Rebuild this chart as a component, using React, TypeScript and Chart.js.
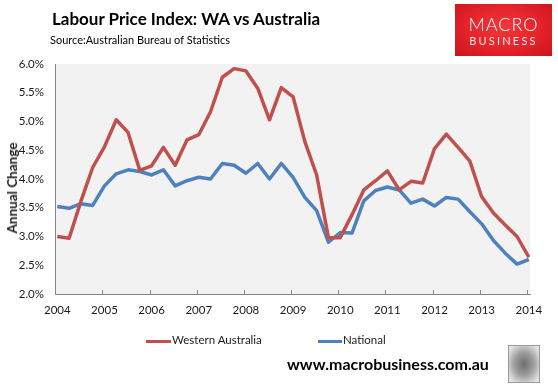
import React, { useEffect, useRef } from "react";
import { Chart, registerables } from "chart.js";

Chart.register(...registerables);

// Quarterly observations, 2004 Q1 .. 2014 Q1
const quarterLabels = [
  "2004-Q1", "2004-Q2", "2004-Q3", "2004-Q4",
  "2005-Q1", "2005-Q2", "2005-Q3", "2005-Q4",
  "2006-Q1", "2006-Q2", "2006-Q3", "2006-Q4",
  "2007-Q1", "2007-Q2", "2007-Q3", "2007-Q4",
  "2008-Q1", "2008-Q2", "2008-Q3", "2008-Q4",
  "2009-Q1", "2009-Q2", "2009-Q3", "2009-Q4",
  "2010-Q1", "2010-Q2", "2010-Q3", "2010-Q4",
  "2011-Q1", "2011-Q2", "2011-Q3", "2011-Q4",
  "2012-Q1", "2012-Q2", "2012-Q3", "2012-Q4",
  "2013-Q1", "2013-Q2", "2013-Q3", "2013-Q4",
  "2014-Q1",
];

const westernAustralia = [
  3.0, 2.97, 3.61, 4.2, 4.56, 5.03, 4.81, 4.15, 4.23, 4.55, 4.24, 4.68, 4.77,
  5.17, 5.77, 5.92, 5.88, 5.58, 5.03, 5.59, 5.43, 4.65, 4.07, 2.98, 2.98, 3.38,
  3.81, 3.97, 4.14, 3.81, 3.96, 3.93, 4.53, 4.78, 4.55, 4.31, 3.69, 3.41, 3.2,
  3.0, 2.64,
];

const national = [
  3.52, 3.49, 3.57, 3.54, 3.88, 4.09, 4.16, 4.13, 4.07, 4.16, 3.88, 3.97, 4.03,
  4.0, 4.27, 4.24, 4.1, 4.27, 4.0, 4.27, 4.03, 3.68, 3.45, 2.9, 3.07, 3.06, 3.62,
  3.8, 3.86, 3.81, 3.58, 3.65, 3.53, 3.68, 3.65, 3.43, 3.22, 2.93, 2.71, 2.52,
  2.6,
];

const yearTicks = [2004, 2005, 2006, 2007, 2008, 2009, 2010, 2011, 2012, 2013, 2014];

const seriesNames = ["Western Australia", "National"];
const seriesColors = ["#C0504D", "#4F81BD"];

const titleText = "Labour Price Index: WA vs Australia";
const sourceText = "Source:Australian Bureau of Statistics";
const yAxisTitle = "Annual Change";
const footerText = "www.macrobusiness.com.au";

const toYear = (q: string) => {
  const [y, qq] = q.split("-Q");
  return Number(y) + (Number(qq) - 1) / 4;
};

const FONT = "Lato, 'Open Sans', 'DejaVu Sans', sans-serif";

const plotDecor = {
  id: "plotDecor",
  beforeDraw(chart: any) {
    const { ctx, chartArea: a } = chart;
    ctx.save();
    ctx.fillStyle = "#F2F2F2";
    ctx.fillRect(a.left, a.top, a.right - a.left, a.bottom - a.top);
    ctx.restore();
  },
  afterDraw(chart: any) {
    const { ctx, chartArea: a } = chart;
    const xs = chart.scales.x;
    ctx.save();
    ctx.strokeStyle = "#868686";
    ctx.lineWidth = 1;
    ctx.beginPath();
    yearTicks.forEach((v) => {
      const px = Math.round(xs.getPixelForValue(v) - 2) + 0.5;
      ctx.moveTo(px, a.bottom);
      ctx.lineTo(px, a.bottom - 4);
    });
    ctx.stroke();
    ctx.restore();
  },
};

export default function App() {
  const ref = useRef<HTMLCanvasElement>(null);

  useEffect(() => {
    const canvas = ref.current;
    if (!canvas) return;
    const tickFont = { family: FONT, size: 11.5 };
    const border = { display: true, color: "#868686", width: 1 };
    const chart = new Chart(canvas, {
      type: "line",
      data: {
        datasets: [westernAustralia, national].map((vals, i) => ({
          label: seriesNames[i],
          data: quarterLabels.map((q, k) => ({ x: toYear(q), y: vals[k] })),
          borderColor: seriesColors[i],
          backgroundColor: seriesColors[i],
          borderWidth: 3.5,
          pointRadius: 0,
          tension: 0,
          fill: false,
          borderJoinStyle: "round",
          borderCapStyle: "butt",
        })),
      },
      options: {
        responsive: false,
        animation: false,
        devicePixelRatio: 1,
        layout: { padding: { top: 64, right: 28, bottom: 0, left: 0 } },
        plugins: {
          legend: { display: false },
          tooltip: { enabled: false },
          title: { display: false },
        },
        scales: {
          x: {
            type: "linear",
            min: 2003.951,
            max: 2014.025,
            grid: { display: false, drawTicks: false },
            border,
            ticks: {
              font: tickFont,
              color: "#1a1a1a",
              padding: 9,
              maxRotation: 0,
              autoSkip: false,
              callback: (v: any) => String(v),
            },
            afterBuildTicks: (s: any) => {
              s.ticks = yearTicks.map((v) => ({ value: v }));
            },
            afterFit: (s: any) => {
              s.height = 90;
            },
          },
          y: {
            min: 2,
            max: 6,
            grid: { display: false, drawTicks: false },
            border,
            ticks: {
              stepSize: 0.5,
              font: tickFont,
              color: "#1a1a1a",
              padding: 11,
              callback: (v: any) => Number(v).toFixed(1) + "%",
            },
            afterFit: (s: any) => {
              s.width = 55;
            },
          },
        },
      } as any,
      plugins: [plotDecor],
    });
    return () => chart.destroy();
  }, []);

  const text = (
    content: string,
    left: number,
    baseline: number,
    size: number,
    weight: number,
    extra: React.CSSProperties = {}
  ) => (
    <div
      style={{
        position: "absolute",
        left,
        top: baseline - 0.887 * size,
        fontSize: size,
        lineHeight: `${size}px`,
        fontWeight: weight,
        whiteSpace: "nowrap",
        color: "#000",
        ...extra,
      }}
    >
      {content}
    </div>
  );

  return (
    <div
      style={{
        position: "absolute",
        left: 0,
        top: 0,
        width: 558,
        height: 384,
        background: "#fff",
        overflow: "hidden",
        fontFamily: FONT,
      }}
    >
      <canvas
        ref={ref}
        width={558}
        height={384}
        style={{ position: "absolute", left: 0, top: 0, width: 558, height: 384 }}
      />
      {text(titleText, 52, 25.5, 17, 700)}
      {text(sourceText, 50, 43.3, 11, 400)}
      <div
        style={{
          position: "absolute",
          left: 12,
          top: 188,
          transform: "translate(-50%, -50%) rotate(-90deg)",
          fontSize: 13.5,
          fontWeight: 700,
          whiteSpace: "nowrap",
          color: "#1a1a1a",
          lineHeight: "14px",
        }}
      >
        {yAxisTitle}
      </div>
      {/* legend */}
      <div style={{ position: "absolute", left: 146, top: 340, width: 25, height: 3, background: seriesColors[0] }} />
      {text(seriesNames[0], 172, 344.5, 11.5, 400, { color: "#1a1a1a" })}
      <div style={{ position: "absolute", left: 318, top: 340, width: 24, height: 3, background: seriesColors[1] }} />
      {text(seriesNames[1], 343, 344.5, 11.5, 400, { color: "#1a1a1a" })}
      {/* footer */}
      {text(footerText, 287, 370, 16, 700)}
      {/* logo */}
      <div
        style={{
          position: "absolute",
          left: 455,
          top: 4,
          width: 97,
          height: 52,
          background: "radial-gradient(ellipse at 50% 45%, #f0383c 0%, #e4222a 55%, #c9141c 100%)",
          color: "#fff",
          textAlign: "center",
        }}
      >
        <div style={{ position: "absolute", left: 0, right: 0, top: 11, fontSize: 18, lineHeight: "18px", fontWeight: 300, letterSpacing: 1 }}>
          MACRO
        </div>
        <div style={{ position: "absolute", left: 0, right: 0, top: 31, fontSize: 11, lineHeight: "12px", fontWeight: 400, letterSpacing: 2.2, color: "#fde6e6" }}>
          BUSINESS
        </div>
      </div>
      {/* wolf emblem */}
      <div
        style={{
          position: "absolute",
          left: 508,
          top: 345,
          width: 30,
          height: 36,
          border: "1px solid #9a9a9a",
          background: "radial-gradient(ellipse at 50% 50%, #6e6e6e 0%, #9d9d9d 45%, #d8d8d8 80%, #f2f2f2 100%)",
        }}
      />
    </div>
  );
}
